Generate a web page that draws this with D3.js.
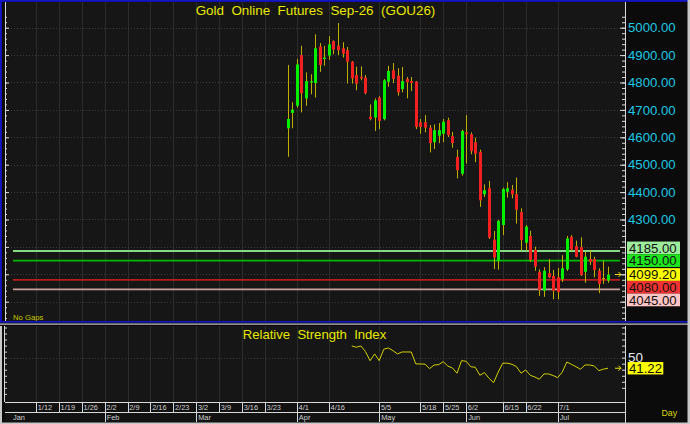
<!DOCTYPE html>
<html>
<head>
<meta charset="utf-8">
<script src="https://cdn.jsdelivr.net/npm/d3@7"></script>
<style>
  body { margin: 0; background: #000; }
  svg { display: block; font-family: "Liberation Sans", Arial, sans-serif; }
</style>
</head>
<body>
<svg id="chart" width="690" height="424"></svg>
<script>
// daily bars, index 0 = first traded day (3/30)
const opens = [4633,4689,4715,4900,4742,4800,4798,4931,4886,4898, 4951,4934,4925,4918,4876,4827,4821,4818,4675,4672,
  4745,4667,4803,4845,4825,4776,4813,4805,4803,4655, 4655,4635,4582,4606,4613,4662,4604,4528,4467,4618,
  4611,4582,4547,4392,4414,4226,4149,4280,4401,4409, 4392,4327,4215,4240,4189,4109,4040,4104,4094,4089,
  4082,4118,4237,4203,4199,4109,4156,4155,4113,4086, 4077];
const highs = [4864,4728,4886,4934,4837,4830,4976,4944,4934,4969, 4954,5017,4947,4930,4878,4858,4859,4827,4720,4742,
  4750,4813,4861,4871,4852,4857,4820,4820,4805,4667, 4681,4645,4647,4652,4667,4672,4620,4555,4628,4681,
  4618,4599,4555,4428,4441,4258,4299,4416,4436,4426, 4453,4341,4280,4259,4201,4118,4126,4155,4116,4123,
  4170,4240,4243,4223,4235,4182,4189,4164,4122,4150, 4128];
const lows = [4529,4633,4708,4691,4715,4757,4745,4839,4861,4883, 4903,4900,4891,4796,4796,4772,4808,4757,4662,4623,
  4630,4662,4784,4798,4752,4764,4742,4769,4630,4613, 4618,4545,4557,4579,4582,4601,4562,4450,4460,4504,
  4538,4509,4346,4382,4229,4119,4117,4243,4380,4377, 4285,4186,4186,4145,4113,4021,4018,4087,4009,4009,
  4072,4112,4185,4162,4094,4069,4134,4089,4031,4065, 4069];
const closes = [4667,4701,4866,4761,4805,4805,4925,4864,4891,4939, 4920,4918,4905,4876,4815,4796,4815,4761,4667,4735,
  4660,4808,4842,4813,4764,4805,4801,4798,4638,4638, 4635,4579,4626,4626,4657,4608,4579,4480,4623,4611,
  4550,4540,4370,4407,4234,4161,4295,4411,4414,4392, 4336,4225,4274,4152,4128,4043,4113,4089,4040,4035,
  4122,4231,4191,4164,4097,4164,4146,4116,4065,4086, 4099.2];

// RSI(14), first value on bar 14
const rsiStart = 14;
const rsiValues = [59.7,58.6,59.7,55.0,47.5,53.1,47.5,57.0,58.0,55.8, 53.1,54.7,54.7,54.7,44.8,44.8,44.6,40.9,43.9,44.2,
  46.7,43.0,41.5,37.1,47.5,47.0,42.5,42.0,35.4,37.6, 32.9,29.3,38.0,45.4,45.4,44.5,42.5,37.1,39.8,35.4,
  34.0,32.1,36.5,36.5,35.2,33.4,38.0,46.4,44.5,42.5, 40.4,44.0,43.9,43.1,39.2,40.5,41.22];

// support / resistance lines
const levels = [4185, 4150, 4080, 4045];
const lastPrice = 4099.20;
const lastRsi = 41.22;

// date axis (bar index -> label)
const weekBars = [-55,-50,-45,-40,-35,-30,-25,-20,-15,-10,-5,2,9,20,29,34,39,47,52,59];
const weekLabels = ["1/12","1/19","1/26","2/2","2/9","2/16","2/23","3/2","3/9","3/16","3/23",
  "4/1","4/16","5/5","5/18","5/25","6/2","6/15","6/22","7/1"];
const monthBars = [-61,-40,-20,2,20,39,59];
const monthLabels = ["Jan","Feb","Mar","Apr","May","Jun","Jul"];

const svg = d3.select("#chart");
const W = 690, H = 424;
const left = 5, right = 625;
const top1 = 2, bot1 = 321;
const top2 = 326, bot2 = 402;

const x = d3.scaleLinear().domain([0, 70]).range([287.7, 608]);
const y = d3.scaleLinear().domain([4000, 5000]).range([301.7, 27.7]);
const yr = d3.scaleLinear().domain([0, 100]).range([418, 297.3]);

// backgrounds
svg.append("rect").attr("width", W).attr("height", H).attr("fill", "#0b0b0b");
svg.append("rect").attr("x", left).attr("y", top1).attr("width", right - left).attr("height", bot1 - top1).attr("fill", "#161616");
svg.append("rect").attr("x", left).attr("y", top2).attr("width", right - left).attr("height", bot2 - top2).attr("fill", "#161616");
svg.append("rect").attr("x", left).attr("y", bot2).attr("width", right - left).attr("height", 20).attr("fill", "#121212");

// clip paths
const defs = svg.append("defs");
defs.append("clipPath").attr("id", "clip1").append("rect")
  .attr("x", left).attr("y", top1).attr("width", right - left).attr("height", bot1 - top1);
defs.append("clipPath").attr("id", "clip2").append("rect")
  .attr("x", left).attr("y", top2).attr("width", right - left).attr("height", bot2 - top2);

// vertical grid (weeks)
[[top1, bot1], [top2, bot2]].forEach(([a, b]) => {
  svg.append("g").selectAll("line").data(weekBars).join("line")
    .attr("x1", d => Math.round(x(d)) + 0.5).attr("x2", d => Math.round(x(d)) + 0.5)
    .attr("y1", a).attr("y2", b)
    .attr("stroke", "#2c2c2c");
});

// horizontal grid (price)
svg.append("g").selectAll("line").data(d3.range(4000, 5001, 100)).join("line")
  .attr("x1", left).attr("x2", right)
  .attr("y1", d => Math.round(y(d)) + 0.5).attr("y2", d => Math.round(y(d)) + 0.5)
  .attr("stroke", "#3a3a3a").attr("stroke-dasharray", "1,2");
svg.append("line")
  .attr("x1", left).attr("x2", right)
  .attr("y1", Math.round(yr(50)) + 0.5).attr("y2", Math.round(yr(50)) + 0.5)
  .attr("stroke", "#3a3a3a").attr("stroke-dasharray", "1,2");

// title
svg.append("text")
  .attr("x", 315.5).attr("y", 15)
  .attr("text-anchor", "middle")
  .style("white-space", "pre")
  .style("font-size", "13.4px")
  .attr("fill", "#e8e800")
  .text("Gold  Online  Futures  Sep-26  (GOU26)");

svg.append("text")
  .attr("x", 13).attr("y", 319.5)
  .style("font-size", "7.7px")
  .attr("fill", "#c8c800")
  .text("No Gaps");

// level lines
const levelStroke = { 4185: "#86d986", 4150: "#00b800", 4080: "#b81c1c", 4045: "#c8a29a" };
svg.append("g").selectAll("line").data(levels).join("line")
  .attr("x1", 13).attr("x2", 620)
  .attr("y1", d => y(d)).attr("y2", d => y(d))
  .attr("stroke", d => levelStroke[d]).attr("stroke-width", 1.8);

// candles
const plot = svg.append("g").attr("clip-path", "url(#clip1)");
const bars = plot.selectAll("g.bar").data(d3.range(opens.length)).join("g").attr("class", "bar");
bars.append("line")
  .attr("x1", i => Math.round(x(i)) + 0.5).attr("x2", i => Math.round(x(i)) + 0.5)
  .attr("y1", i => y(highs[i])).attr("y2", i => y(lows[i]))
  .attr("stroke", "#bfae00").attr("stroke-width", 1);
bars.append("rect")
  .attr("x", i => Math.round(x(i)) - 1)
  .attr("width", 3)
  .attr("y", i => y(Math.max(opens[i], closes[i])))
  .attr("height", i => Math.max(1, Math.abs(y(opens[i]) - y(closes[i]))))
  .attr("fill", i => closes[i] > opens[i] ? "#00f000" : closes[i] < opens[i] ? "#f22020" : "#bfae00");

// current price marker
const yl = y(lastPrice);
svg.append("path")
  .attr("d", `M615,${yl}H621M618.5,${yl - 2.5}L621,${yl}L618.5,${yl + 2.5}`)
  .attr("stroke", "#f0e000").attr("fill", "none").attr("stroke-width", 1);

// right price axis
svg.append("rect").attr("x", right).attr("y", top1).attr("width", W - right).attr("height", bot1 - top1).attr("fill", "#0b0b0b");
svg.append("g").attr("transform", `translate(${right},0)`)
  .call(d3.axisLeft(y).tickValues(d3.range(3940, 5060, 20)).tickSize(3).tickFormat(""))
  .call(g => g.select(".domain").remove())
  .selectAll("line").attr("stroke", "#d8d8d8");
svg.append("g").attr("transform", `translate(${right},0)`)
  .call(d3.axisLeft(y).tickValues(d3.range(4000, 5001, 100)).tickSize(5).tickFormat(""))
  .call(g => g.select(".domain").remove())
  .selectAll("line").attr("stroke", "#d8d8d8");
svg.append("line").attr("x1", right + 0.5).attr("x2", right + 0.5).attr("y1", top1).attr("y2", bot1).attr("stroke", "#d8d8d8");
svg.append("g").selectAll("text").data(d3.range(4000, 5001, 100)).join("text")
  .attr("x", 628).attr("y", d => y(d) + 4.7)
  .style("font-size", "13.2px")
  .attr("fill", "#1ec8e4")
  .text(d => d3.format(".2f")(d));

// left axis ticks
svg.append("g").attr("transform", `translate(${left},0)`)
  .call(d3.axisRight(y).tickValues(d3.range(3940, 5060, 20)).tickSize(2).tickFormat(""))
  .call(g => g.select(".domain").remove())
  .selectAll("line").attr("stroke", "#d8d8d8");
svg.append("g").attr("transform", `translate(${left},0)`)
  .call(d3.axisRight(y).tickValues(d3.range(4000, 5001, 100)).tickSize(4).tickFormat(""))
  .call(g => g.select(".domain").remove())
  .selectAll("line").attr("stroke", "#d8d8d8");
svg.append("line").attr("x1", left + 0.5).attr("x2", left + 0.5).attr("y1", top1).attr("y2", bot1).attr("stroke", "#d8d8d8");

// price labels, stacked so they do not overlap
const boxH = 12.7;
const boxes = levels.map(v => ({ v, fill: { 4185: "#9cec9c", 4150: "#1ee61e", 4080: "#f23232", 4045: "#ffc4c4" }[v] }))
  .concat([{ v: lastPrice, fill: "#ffff00", anchor: true }])
  .sort((a, b) => b.v - a.v);
boxes.forEach(b => b.cy = y(b.v));
const ai = boxes.findIndex(b => b.anchor);
for (let i = ai - 1; i >= 0; i--) boxes[i].cy = Math.min(boxes[i].cy, boxes[i + 1].cy - boxH);
for (let i = ai + 1; i < boxes.length; i++) boxes[i].cy = Math.max(boxes[i].cy, boxes[i - 1].cy + boxH);
const bx = svg.append("g").selectAll("g").data(boxes).join("g");
bx.append("rect")
  .attr("x", 627).attr("y", b => b.cy - boxH / 2).attr("width", 53).attr("height", boxH)
  .attr("fill", b => b.fill);
bx.append("text")
  .attr("x", 629).attr("y", b => b.cy + 4.7)
  .style("font-size", "13.2px")
  .attr("fill", "#111")
  .text(b => d3.format(".2f")(b.v));

// panel separator
svg.append("rect").attr("x", 0).attr("y", bot1).attr("width", W).attr("height", 1.6).attr("fill", "#1414c8");
svg.append("rect").attr("x", 0).attr("y", bot1 + 2.5).attr("width", W).attr("height", 1.2).attr("fill", "#c8c8c8");
// blue frame
svg.append("rect").attr("x", 0).attr("y", 0).attr("width", W).attr("height", 1.8).attr("fill", "#1414c8");
svg.append("rect").attr("x", 0).attr("y", 0).attr("width", 1.8).attr("height", bot1).attr("fill", "#1414c8");

// RSI panel
svg.append("text")
  .attr("x", 314.5).attr("y", 339)
  .attr("text-anchor", "middle")
  .style("white-space", "pre")
  .style("font-size", "13.1px")
  .attr("fill", "#e8e800")
  .text("Relative  Strength  Index");

const rsiLine = d3.line()
  .x((d, i) => x(i + rsiStart))
  .y(d => yr(d));
svg.append("path")
  .datum(rsiValues)
  .attr("clip-path", "url(#clip2)")
  .attr("fill", "none")
  .attr("stroke", "#d4d000")
  .attr("stroke-width", 1)
  .attr("d", rsiLine);

svg.append("rect").attr("x", right).attr("y", top2).attr("width", W - right).attr("height", H - top2).attr("fill", "#0b0b0b");
svg.append("g").attr("transform", `translate(${right},0)`)
  .call(d3.axisLeft(yr).tickValues(d3.range(25, 80, 5)).tickSize(3).tickFormat(""))
  .call(g => g.select(".domain").remove())
  .selectAll("line").attr("stroke", "#d8d8d8");
svg.append("line").attr("x1", right + 0.5).attr("x2", right + 0.5).attr("y1", top2).attr("y2", H).attr("stroke", "#d8d8d8");
svg.append("g").attr("transform", `translate(${left},0)`)
  .call(d3.axisRight(yr).tickValues(d3.range(20, 80, 5)).tickSize(2).tickFormat(""))
  .call(g => g.select(".domain").remove())
  .selectAll("line").attr("stroke", "#d8d8d8");
svg.append("line").attr("x1", left - 0.5).attr("x2", left - 0.5).attr("y1", top2).attr("y2", bot2).attr("stroke", "#d8d8d8");

svg.append("text")
  .attr("x", 628).attr("y", yr(50) + 4)
  .style("font-size", "13.5px")
  .attr("fill", "#e8e8e8")
  .text("50");
const yRsi = yr(lastRsi);
svg.append("rect").attr("x", 627.7).attr("y", yRsi - 6.2).attr("width", 35.6).attr("height", 12.4).attr("fill", "#ffff00");
svg.append("text")
  .attr("x", 629).attr("y", yRsi + 4.7)
  .style("font-size", "13.2px")
  .attr("fill", "#111")
  .text(d3.format(".2f")(lastRsi));
svg.append("path")
  .attr("d", `M615,${yRsi}H621M618.5,${yRsi - 2.5}L621,${yRsi}L618.5,${yRsi + 2.5}`)
  .attr("stroke", "#f0e000").attr("fill", "none");

// date axis
svg.append("line").attr("x1", left).attr("x2", right).attr("y1", bot2 + 0.5).attr("y2", bot2 + 0.5).attr("stroke", "#d8d8d8");
svg.append("line").attr("x1", left).attr("x2", right).attr("y1", 412.5).attr("y2", 412.5).attr("stroke", "#d8d8d8");
svg.append("g").selectAll("line").data(weekBars).join("line")
  .attr("x1", d => Math.round(x(d)) + 0.5).attr("x2", d => Math.round(x(d)) + 0.5)
  .attr("y1", bot2).attr("y2", 412.5).attr("stroke", "#d8d8d8");
svg.append("g").selectAll("text").data(weekBars).join("text")
  .attr("x", d => x(d) + 1.7).attr("y", 410)
  .style("font-size", "7.4px")
  .attr("fill", "#d0d0d0")
  .text((d, i) => weekLabels[i]);
svg.append("g").selectAll("line").data(monthBars.filter(d => x(d) > left + 5)).join("line")
  .attr("x1", d => Math.round(x(d)) + 0.5).attr("x2", d => Math.round(x(d)) + 0.5)
  .attr("y1", 412.5).attr("y2", 422).attr("stroke", "#d8d8d8");
svg.append("g").selectAll("text").data(monthBars).join("text")
  .attr("x", d => Math.max(x(d) + 2, 13)).attr("y", 420)
  .style("font-size", "7.4px")
  .attr("fill", "#d0d0d0")
  .text((d, i) => monthLabels[i]);

svg.append("text")
  .attr("x", 661.5).attr("y", 416)
  .style("font-size", "8.8px")
  .attr("fill", "#d8d800")
  .text("Day");

// outer light border
svg.append("rect").attr("x", 0).attr("y", 422.5).attr("width", W).attr("height", 1.5).attr("fill", "#c8c8c8");
svg.append("rect").attr("x", 687.5).attr("y", 0).attr("width", 2.5).attr("height", H).attr("fill", "#c8c8c8");
svg.append("rect").attr("x", 0).attr("y", top2).attr("width", 2).attr("height", H - top2).attr("fill", "#c8c8c8");
</script>
</body>
</html>
